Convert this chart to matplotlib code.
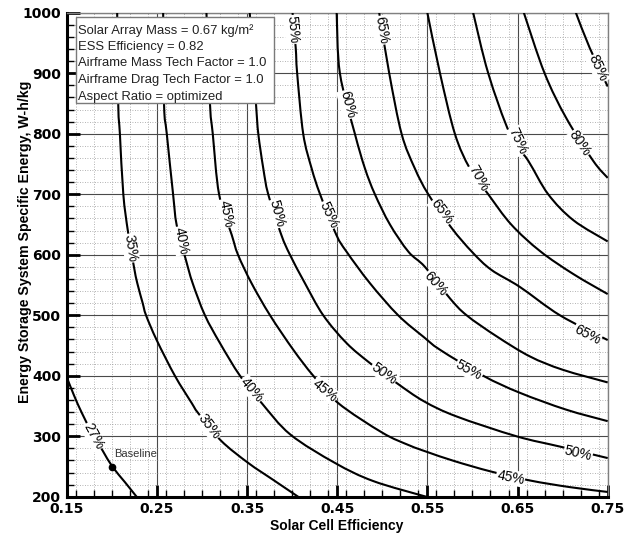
import numpy as np
import matplotlib.pyplot as plt
from matplotlib.ticker import MultipleLocator
from matplotlib.patches import Rectangle, PathPatch
from matplotlib.path import Path

plt.rcParams['font.family'] = ['Liberation Sans', 'DejaVu Sans']

# ── contour lines (solar cell eff., ESS W-h/kg) ──────────────────────────────
x27 = [0.150, 0.158, 0.167, 0.178, 0.190, 0.2006, 0.2147, 0.2276]
y27 = [398, 368, 338, 306, 276, 250, 224, 200]

x35 = [0.206, 0.2072, 0.209, 0.2128, 0.218, 0.2246, 0.2283, 0.2343, 0.238,
       0.2498, 0.270, 0.2886, 0.296, 0.321, 0.3513, 0.379, 0.4068]
y35 = [1000, 847, 800, 700, 638, 580, 553, 520, 500, 459, 400, 355, 338,
       293, 256, 228, 200]

x40 = [0.257, 0.258, 0.261, 0.268, 0.272, 0.2823, 0.2897, 0.3033, 0.320,
       0.3422, 0.3662, 0.398, 0.4475, 0.490, 0.549]
y40 = [1000, 847, 800, 700, 649, 591, 553, 500, 454, 400, 355, 303, 256,
       226, 200]

x45 = [0.305, 0.309, 0.312, 0.319, 0.333, 0.340, 0.355, 0.3755, 0.4013,
       0.4235, 0.451, 0.500, 0.530, 0.550, 0.580, 0.620, 0.6637, 0.708, 0.750]
y45 = [1000, 847, 800, 700, 633, 600, 553, 500, 443, 400, 355, 306, 285,
       274, 259, 242, 227, 216, 208]

x50 = [0.353, 0.360, 0.3625, 0.368, 0.3735, 0.388, 0.3976, 0.4142, 0.4345,
       0.4604, 0.4863, 0.516, 0.546, 0.582, 0.6489, 0.697, 0.750]
y50 = [1000, 848, 800, 743, 700, 633, 600, 553, 500, 454, 421, 388, 358,
       333, 300, 283, 264]

x55 = [0.4005, 0.404, 0.4056, 0.4123, 0.4216, 0.431, 0.449, 0.4604, 0.4863,
       0.5176, 0.546, 0.564, 0.612, 0.6524, 0.704, 0.750]
y55 = [1000, 942, 900, 800, 743, 700, 633, 605, 553, 500, 464, 443, 400,
       372, 344, 325]

x60 = [0.4494, 0.453, 0.4696, 0.4807, 0.4918, 0.5085, 0.529, 0.5473, 0.575,
       0.5935, 0.627, 0.6637, 0.700, 0.750]
y60 = [1000, 900, 800, 743, 700, 650, 605, 580, 528, 500, 465, 432, 410, 389]

x65 = [0.4966, 0.5077, 0.5214, 0.536, 0.551, 0.577, 0.600, 0.621, 0.6524,
       0.697, 0.750]
y65 = [1000, 900, 800, 743, 700, 644, 604, 575, 547, 500, 459]

x70 = [0.550, 0.564, 0.5805, 0.597, 0.6175, 0.643, 0.675, 0.712, 0.750]
y70 = [1000, 900, 800, 743, 700, 650, 606, 568, 535]

x75 = [0.6008, 0.6175, 0.6415, 0.662, 0.684, 0.712, 0.750]
y75 = [1000, 900, 800, 755, 700, 657, 622]

x80 = [0.657, 0.680, 0.704, 0.734, 0.750]
y80 = [1000, 900, 826, 755, 727]

x85 = [0.7147, 0.730, 0.750]
y85 = [1000, 942, 878]

# label positions along each line
lab27 = [(0.1795, 300)]
lab35 = [(0.221, 611), (0.3078, 316)]
lab40 = [(0.2766, 623), (0.355, 377)]
lab45 = [(0.3263, 668), (0.4364, 376), (0.6423, 232)]
lab50 = [(0.3828, 668), (0.5018, 404), (0.7172, 272)]
lab55 = [(0.4001, 972), (0.4408, 666), (0.596, 409)]
lab60 = [(0.4611, 848), (0.559, 552)]
lab65 = [(0.4992, 971), (0.5657, 671), (0.7272, 468)]
lab70 = [(0.6071, 727)]
lab75 = [(0.6507, 788)]
lab80 = [(0.719, 784)]
lab85 = [(0.7394, 908)]

baseline_x, baseline_y = 0.20, 250

info_lines = [
    "Solar Array Mass = 0.67 kg/m\u00b2",
    "ESS Efficiency = 0.82",
    "Airframe Mass Tech Factor = 1.0",
    "Airframe Drag Tech Factor = 1.0",
    "Aspect Ratio = optimized",
]

curves = [
    ("27%", x27, y27, lab27), ("35%", x35, y35, lab35),
    ("40%", x40, y40, lab40), ("45%", x45, y45, lab45),
    ("50%", x50, y50, lab50), ("55%", x55, y55, lab55),
    ("60%", x60, y60, lab60), ("65%", x65, y65, lab65),
    ("70%", x70, y70, lab70), ("75%", x75, y75, lab75),
    ("80%", x80, y80, lab80), ("85%", x85, y85, lab85),
]


def smooth_path(xs, ys):
    """Catmull-Rom style cubic Bezier path through the read points."""
    P = np.column_stack([xs, ys]).astype(float)
    verts, codes = [P[0]], [Path.MOVETO]
    for i in range(len(P) - 1):
        p0 = P[i - 1] if i > 0 else P[i]
        p1, p2 = P[i], P[i + 1]
        p3 = P[i + 2] if i + 2 < len(P) else P[i + 1]
        verts += [p1 + (p2 - p0) / 6, p2 - (p3 - p1) / 6, p2]
        codes += [Path.CURVE4] * 3
    return Path(verts, codes)


def label_angle(ax, xs, ys, lx, ly):
    """angle of the line (screen degrees) nearest to the label point"""
    pts = ax.transData.transform(np.column_stack([xs, ys]))
    p = ax.transData.transform((lx, ly))
    i = int(np.argmin(np.hypot(*(pts - p).T)))
    j0, j1 = max(i - 1, 0), min(i + 1, len(xs) - 1)
    dx, dy = pts[j1] - pts[j0]
    if dx < 0:
        dx, dy = -dx, -dy
    return np.degrees(np.arctan2(dy, dx))


fig = plt.figure(figsize=(6.25, 5.35), dpi=100)
ax = fig.add_axes([0.1067, 0.0714, 0.8656, 0.9049])
ax.set_xlim(0.15, 0.75)
ax.set_ylim(200, 1000)

# grid
ax.xaxis.set_minor_locator(MultipleLocator(0.02))
ax.yaxis.set_major_locator(MultipleLocator(100))
ax.yaxis.set_minor_locator(MultipleLocator(20))
xt = np.arange(0.15, 0.751, 0.1)
ax.set_xticks(xt)
ax.set_xticklabels([f"{v:.2f}" for v in xt])
ax.grid(which="major", color="#4a4a4a", linewidth=0.8, zorder=1)
ax.grid(which="minor", color="#9a9a9a", linewidth=0.6,
        linestyle=(0, (1, 2)), zorder=0)
ax.set_axisbelow(True)

for side in ("left", "bottom"):
    ax.spines[side].set_linewidth(2.2)
    ax.spines[side].set_color("black")
for side in ("top", "right"):
    ax.spines[side].set_linewidth(1)
    ax.spines[side].set_color("#808080")

ax.tick_params(which="major", direction="in", length=9, width=2,
               top=False, right=False, pad=4)
ax.tick_params(which="minor", direction="in", length=5, width=1,
               top=False, right=False)
for lbl in ax.get_xticklabels() + ax.get_yticklabels():
    lbl.set_fontweight("bold")
    lbl.set_fontsize(10)
    lbl.set_family(["DejaVu Sans"])

ax.set_xlabel("Solar Cell Efficiency", fontsize=10, fontweight="bold",
              va="center")
ax.set_ylabel("Energy Storage System Specific Energy, W-h/kg", fontsize=10.2,
              fontweight="bold", va="center")
ax.xaxis.set_label_coords(0.5, -0.060)
ax.yaxis.set_label_coords(-0.077, 0.527)

# contour lines + labels
for name, xs, ys, labs in curves:
    ax.add_patch(PathPatch(smooth_path(xs, ys), fill=False, edgecolor="black",
                           linewidth=1.5, zorder=3, joinstyle="round"))
    for lx, ly in labs:
        ang = label_angle(ax, xs, ys, lx, ly)
        ax.text(lx, ly, name, fontsize=10, rotation=ang,
                rotation_mode="anchor", ha="center", va="center", zorder=4,
                bbox=dict(boxstyle="square,pad=0.05", fc="white", ec="none"))

# baseline point
ax.plot(baseline_x, baseline_y, "o", color="black", markersize=4.5, zorder=5)
ax.text(baseline_x + 0.0025, baseline_y + 20, "Baseline", fontsize=8,
        color="#333333", va="center", ha="left", zorder=5)

# info box
ax.add_patch(Rectangle((0.017, 0.8135), 0.366, 0.178, transform=ax.transAxes,
                       facecolor="white", edgecolor="#7a7a7a", linewidth=1,
                       zorder=6))
for k, line in enumerate(info_lines):
    ax.text(0.021, 0.964 - k * 0.0343, line, transform=ax.transAxes,
            fontsize=9.4, color="#222222", va="center", ha="left", zorder=7)

fig.savefig("out.png", dpi=100)
